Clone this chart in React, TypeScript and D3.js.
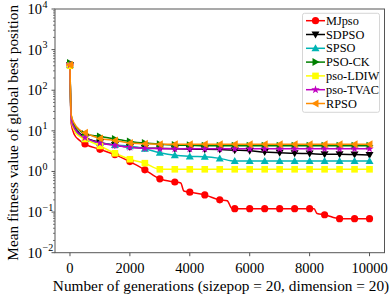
import React from "react";
import * as d3 from "d3";

const GENS = [0, 40, 150, 300, 500, 1000, 1500, 2000, 2500, 3000, 3500, 4000, 4500, 5000, 5500, 6000, 6500, 7000, 7500, 8000, 8500, 9000, 9500, 10000];

const MJPSO = [420, 15, 8, 6, 4.75, 3.5, 2.6, 1.75, 1.1, 0.66, 0.55, 0.31, 0.265, 0.2, 0.121, 0.121, 0.121, 0.121, 0.121, 0.121, 0.086, 0.069, 0.069, 0.069];
const MJPSO_STEPS: [number, number][] = [[3700, 0.52], [3800, 0.33], [5250, 0.19], [5400, 0.124], [8150, 0.12], [8250, 0.092]];
const SDPSO = [420, 20, 12, 9, 7.0, 5.2, 4.5, 4.0, 3.8, 3.7, 3.6, 3.55, 3.5, 3.45, 3.35, 3.25, 3.0, 2.9, 2.8, 2.75, 2.65, 2.65, 2.6, 2.55];
const SPSO = [420, 18, 11, 8, 6.3, 5.0, 4.5, 4.2, 3.6, 2.9, 2.5, 2.35, 2.3, 2.1, 1.8, 1.8, 1.8, 1.8, 1.8, 1.8, 1.8, 1.8, 1.8, 1.8];
const PSOCK = [470, 24, 14, 10.5, 8.3, 7.3, 6.3, 5.5, 5.0, 4.7, 4.5, 4.4, 4.3, 4.3, 4.3, 4.3, 4.3, 4.3, 4.3, 4.3, 4.3, 4.3, 4.3, 4.3];
const PSOLDIW = [400, 18, 10, 7.5, 6.3, 4.25, 2.8, 2.0, 1.6, 1.13, 1.13, 1.13, 1.13, 1.13, 1.13, 1.13, 1.13, 1.13, 1.13, 1.13, 1.13, 1.13, 1.13, 1.13];
const PSOTVAC = [420, 19, 11.5, 8.5, 6.8, 5.0, 4.4, 3.95, 3.7, 3.65, 3.6, 3.6, 3.6, 3.6, 3.6, 3.6, 3.6, 3.6, 3.6, 3.6, 3.6, 3.6, 3.6, 3.6];
const RPSO = [420, 25, 15, 11, 9.0, 6.5, 5.8, 5.0, 4.8, 4.7, 4.65, 4.65, 4.65, 4.65, 4.65, 4.65, 4.65, 4.65, 4.65, 4.65, 4.65, 4.65, 4.65, 4.65];

const X_TICKS = [0, 2000, 4000, 6000, 8000, 10000];
const Y_EXPONENTS = [-2, -1, 0, 1, 2, 3, 4];

const SERIES = [
  { name: "MJpso", values: MJPSO, extra: MJPSO_STEPS, color: "#ff0000", marker: "circle" },
  { name: "SDPSO", values: SDPSO, extra: [], color: "#000000", marker: "tdown" },
  { name: "SPSO", values: SPSO, extra: [], color: "#00b4b4", marker: "tup" },
  { name: "PSO-CK", values: PSOCK, extra: [], color: "#008000", marker: "tright" },
  { name: "pso-LDIW", values: PSOLDIW, extra: [], color: "#ffff00", marker: "square" },
  { name: "pso-TVAC", values: PSOTVAC, extra: [], color: "#c000c0", marker: "star" },
  { name: "RPSO", values: RPSO, extra: [], color: "#ff8c00", marker: "tleft" },
];

const W = 392;
const H = 297;
const M = { left: 55, right: 7.5, top: 9, bottom: 44.3 };
const FONT = "'Liberation Serif', 'Times New Roman', serif";

function Marker({ type, x, y, color }: { type: string; x: number; y: number; color: string }) {
  if (type === "circle") return <circle cx={x} cy={y} r={3.6} fill={color} />;
  if (type === "square") return <rect x={x - 3.3} y={y - 3.3} width={6.6} height={6.6} fill={color} />;
  if (type === "star") {
    const p = d3.symbol().type(d3.symbolStar).size(22)();
    return <path d={p || ""} transform={`translate(${x},${y})`} fill={color} />;
  }
  const r = 4;
  let pts: [number, number][] = [];
  if (type === "tup") pts = [[0, -r], [r, r * 0.75], [-r, r * 0.75]];
  if (type === "tdown") pts = [[0, r], [r, -r * 0.75], [-r, -r * 0.75]];
  if (type === "tright") pts = [[r, 0], [-r * 0.75, r], [-r * 0.75, -r]];
  if (type === "tleft") pts = [[-r, 0], [r * 0.75, r], [r * 0.75, -r]];
  return <polygon points={pts.map((p) => `${x + p[0]},${y + p[1]}`).join(" ")} fill={color} />;
}

export default function App() {
  const x = d3.scaleLinear().domain([-500, 10500]).range([M.left, W - M.right]);
  const y = d3.scaleLog().domain([0.01, 10000]).range([H - M.bottom, M.top]);
  const line = d3
    .line<[number, number]>()
    .x((d) => x(d[0]))
    .y((d) => y(d[1]))
    .curve(d3.curveMonotoneX);

  const minor: number[] = [];
  for (let e = -2; e < 4; e++) for (let k = 2; k <= 9; k++) minor.push(k * Math.pow(10, e));

  const x0 = M.left;
  const x1 = W - M.right;
  const y0 = M.top;
  const y1 = H - M.bottom;
  const axisColor = "#555";

  const legX = 302.5;
  const legY = 13.3;
  const legW = 77;
  const legRow = 13.8;

  return (
    <svg width={W} height={H} style={{ position: "absolute", left: 0, top: 0 }} fontFamily={FONT}>
      <rect width={W} height={H} fill="#fff" />
      <defs>
        <clipPath id="plot">
          <rect x={x0} y={y0} width={x1 - x0} height={y1 - y0} />
        </clipPath>
      </defs>
      <g clipPath="url(#plot)">
        {SERIES.map((s) => {
          const pts: [number, number][] = GENS.map((g, i) => [g, s.values[i]] as [number, number])
            .concat(s.extra as [number, number][])
            .sort((a, b) => a[0] - b[0]);
          return <path key={s.name} d={line(pts) || ""} fill="none" stroke={s.color} strokeWidth={1.5} />;
        })}
        {SERIES.map((s) => (
          <g key={s.name + "m"}>
            {GENS.map((g, i) =>
              g % 500 === 0 ? <Marker key={g} type={s.marker} x={x(g)} y={y(s.values[i])} color={s.color} /> : null
            )}
          </g>
        ))}
      </g>
      <rect x={x0} y={y0} width={x1 - x0} height={y1 - y0} fill="none" stroke={axisColor} strokeWidth={1} />
      {X_TICKS.map((t) => (
        <g key={t}>
          <line x1={x(t)} x2={x(t)} y1={y1} y2={y1 + 3.5} stroke={axisColor} />
          <text x={x(t)} y={273} fontSize={14.5} textAnchor="middle" fill="#000">
            {t}
          </text>
        </g>
      ))}
      {minor.map((v) => (
        <line key={v} x1={x0 - 2} x2={x0} y1={y(v)} y2={y(v)} stroke={axisColor} strokeWidth={0.8} />
      ))}
      {Y_EXPONENTS.map((e) => (
        <g key={e}>
          <line x1={x0 - 3.5} x2={x0} y1={y(Math.pow(10, e))} y2={y(Math.pow(10, e))} stroke={axisColor} />
          <text x={42} y={y(Math.pow(10, e)) + 5} fontSize={14.5} textAnchor="end" fill="#000">
            10
          </text>
          <text x={42.5} y={y(Math.pow(10, e)) - 1.5} fontSize={10} textAnchor="start" fill="#000">
            {e < 0 ? "\u2212" + Math.abs(e) : String(e)}
          </text>
        </g>
      ))}
      <text x={221} y={291} fontSize={15.3} textAnchor="middle" fill="#000">
        Number of generations (sizepop = 20, dimension = 20)
      </text>
      <text transform={`translate(17.5,${(y0 + y1) / 2 + 2}) rotate(-90)`} fontSize={15.3} textAnchor="middle" fill="#000">
        Mean fitness value of global best position
      </text>
      <rect x={legX} y={legY} width={legW} height={99} fill="#fff" stroke="#ccc" strokeWidth={0.8} rx={2} />
      {SERIES.map((s, i) => {
        const cy = legY + 7.4 + i * legRow;
        return (
          <g key={s.name + "l"}>
            <line x1={legX + 3.5} x2={legX + 22.5} y1={cy} y2={cy} stroke={s.color} strokeWidth={1.5} />
            <Marker type={s.marker} x={legX + 13} y={cy} color={s.color} />
            <text x={legX + 23.5} y={cy + 4} fontSize={12.3} fill="#000">
              {s.name}
            </text>
          </g>
        );
      })}
    </svg>
  );
}
